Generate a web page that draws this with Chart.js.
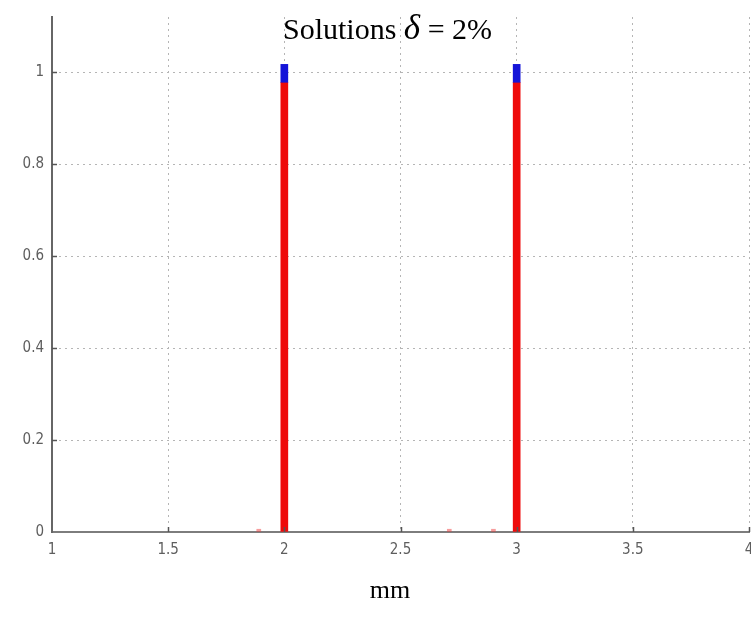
<!DOCTYPE html>
<html><head><meta charset="utf-8">
<script src="https://cdn.jsdelivr.net/npm/chart.js@4"></script>
<style>html,body{margin:0;padding:0;background:#fff}canvas{display:block}</style>
</head><body>
<canvas id="c" width="751" height="619"></canvas>
<script>
// ---- data ----
const titleParts = ['Solutions ', 'δ', ' = 2%'];
const xAxisLabel = 'mm';
const peakX = [2, 3];
const redTop = [0.978, 0.978];
const blueTop = [1.017, 1.017];
const minorX = [1.89, 2.71, 2.9];
const minorY = [0.006, 0.006, 0.006];
const xTickValues = [1, 1.5, 2, 2.5, 3, 3.5, 4];
const yTickValues = [0, 0.2, 0.4, 0.6, 0.8, 1];

const redData = peakX.map((x, i) => ({x: x, y: [0, redTop[i]]}));
const blueData = peakX.map((x, i) => ({x: x, y: [redTop[i], blueTop[i]]}));
const minorData = minorX.map((x, i) => ({x: x, y: [0, minorY[i]]}));

const tickFont = {family: "'DejaVu Sans Condensed', 'DejaVu Sans', sans-serif", size: 15};
const fmt = v => String(+Number(v).toFixed(2));

const decor = {
  id: 'decor',
  afterDraw(chart) {
    const ctx = chart.ctx;
    const xs = chart.scales.x, ys = chart.scales.y;
    ctx.save();
    ctx.strokeStyle = '#555';
    ctx.lineWidth = 1.5;
    yTickValues.forEach(v => {
      if (v === 0) return;
      const py = Math.round(ys.getPixelForValue(v)) + 0.5;
      ctx.beginPath(); ctx.moveTo(xs.left, py); ctx.lineTo(xs.left + 5, py); ctx.stroke();
    });
    xTickValues.forEach(v => {
      if (v === 1) return;
      const px = Math.round(xs.getPixelForValue(v)) + 0.5;
      ctx.beginPath(); ctx.moveTo(px, ys.bottom); ctx.lineTo(px, ys.bottom - 5); ctx.stroke();
    });
    ctx.restore();
    ctx.save();
    ctx.fillStyle = '#000';
    ctx.textBaseline = 'alphabetic';
    const fonts = ["30px 'Liberation Serif', 'Times New Roman', serif",
                   "italic 35px 'Liberation Serif', 'Times New Roman', serif",
                   "30px 'Liberation Serif', 'Times New Roman', serif"];
    let x = 283;
    const base = 39;
    titleParts.forEach((t, i) => {
      ctx.font = fonts[i];
      ctx.fillText(t, x, base);
      x += ctx.measureText(t).width;
    });
    ctx.font = "26px 'Liberation Serif', 'Times New Roman', serif";
    ctx.textAlign = 'center';
    ctx.fillText(xAxisLabel, 390, 598);
    ctx.restore();
  }
};

new Chart(document.getElementById('c'), {
  type: 'bar',
  data: {
    datasets: [
      {data: redData, backgroundColor: '#ee0a0a', barThickness: 7, grouped: false, order: 2},
      {data: blueData, backgroundColor: '#1414d8', barThickness: 7, grouped: false, order: 1},
      {data: minorData, backgroundColor: 'rgba(240,60,60,0.5)', barThickness: 4, grouped: false, order: 3}
    ]
  },
  options: {
    responsive: false,
    devicePixelRatio: 1,
    animation: false,
    layout: {padding: {top: 16, right: 2, left: 0, bottom: 0}},
    plugins: {legend: {display: false}, tooltip: {enabled: false}, title: {display: false}},
    scales: {
      x: {
        type: 'linear', min: 1, max: 4, offset: false,
        afterBuildTicks: s => { s.ticks = xTickValues.map(v => ({value: v})); },
        afterFit: s => { s.height = 87; s.paddingLeft = 0; s.paddingRight = 0; },
        ticks: {color: '#5e5e5e', font: tickFont, padding: 9, maxRotation: 0, autoSkip: false, callback: fmt},
        grid: {color: '#b5b5b5', lineWidth: 1, drawTicks: false, offset: false},
        border: {display: true, color: '#7d7d7d', width: 2, dash: [2, 4]}
      },
      y: {
        type: 'linear', min: 0, max: 1.12,
        afterBuildTicks: s => { s.ticks = yTickValues.map(v => ({value: v})); },
        afterFit: s => { s.width = 52; },
        ticks: {color: '#5e5e5e', font: tickFont, padding: 8, callback: fmt},
        grid: {color: '#b5b5b5', lineWidth: 1, drawTicks: false},
        border: {display: true, color: '#666666', width: 2, dash: [2, 4]}
      }
    }
  },
  plugins: [decor]
});
</script>
</body></html>
